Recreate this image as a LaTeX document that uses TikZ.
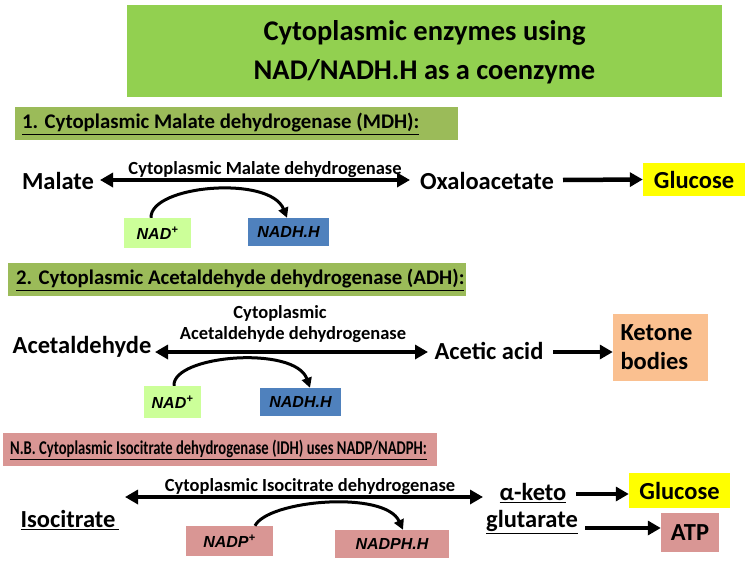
\documentclass[tikz,border=0pt]{standalone}
\usepackage{fontspec}
\usepackage{graphicx}
\setmainfont{Carlito}
\newfontfamily\arialf{Liberation Sans}
\usetikzlibrary{arrows.meta}
\definecolor{titlegreen}{HTML}{92D050}
\definecolor{olive}{HTML}{9BBB59}
\definecolor{rosy}{HTML}{D99694}
\definecolor{lightgreen}{HTML}{CCFF99}
\definecolor{bluebox}{HTML}{4F81BD}
\definecolor{peach}{HTML}{FAC090}
\definecolor{yellowbox}{HTML}{FFFF00}
\tikzset{
  big/.style={font=\fontsize{24.5}{29}\selectfont\bfseries, inner sep=0pt},
  enz/.style={font=\fontsize{18.5}{21}\selectfont\bfseries, inner sep=0pt},
  hdr/.style={font=\fontsize{20.8}{23}\selectfont\bfseries, inner sep=0pt, anchor=west},
  cof/.style={font=\arialf\fontsize{16}{18}\selectfont\bfseries\itshape, inner sep=0pt},
  rxn/.style={line width=4.5pt, {Triangle[length=13pt,width=14pt]}-{Triangle[length=13pt,width=14pt]}},
  fwd/.style={line width=4.5pt, -{Triangle[length=13pt,width=14pt]}},
  cofarc/.style={line width=3pt, -{Triangle[length=10pt,width=10pt]}},
}
\begin{document}
\begin{tikzpicture}[x=1pt,y=-1pt]
\useasboundingbox (0,0) rectangle (750,562);
% title
\fill[titlegreen] (127,5) rectangle (722,97);
\node[font=\fontsize{28.5}{39}\selectfont\bfseries, align=center] (title) at (424.5,52) {Cytoplasmic enzymes using\\NAD/NADH.H as a coenzyme};

% section 1
\fill[olive] (15,107) rectangle (458,140);
\node[hdr] (h1) at (22,124) {\underline{1. Cytoplasmic Malate dehydrogenase (MDH):}};
\node[big] (mal) at (58,181) {Malate};
\node[big] (oxa) at (487,181) {Oxaloacetate};
\node[big, fill=yellowbox, minimum width=102pt, minimum height=33pt] (glu1) at (694,179.5) {Glucose};
\coordinate (a1l) at (100,180);
\coordinate (a1r) at (410,180);
\draw[rxn] (a1l) -- (a1r);
\node[enz] (e1) at (265,170) {Cytoplasmic Malate dehydrogenase};
\coordinate (o1) at (563,180);
\draw[fwd] (o1) -- (glu1.west);
\node[cof, fill=lightgreen, minimum width=67pt, minimum height=30pt] (nad1) at (157.5,233) {NAD\textsuperscript{+}};
\node[cof, fill=bluebox, minimum width=81pt, minimum height=28pt] (nadh1) at (288.5,232) {NADH.H};
\draw[cofarc] (nad1.north -| 151,0) .. controls (150,185) and (270,175) .. (nadh1.north -| 287,0);

% section 2
\fill[olive] (8,263) rectangle (466,296);
\node[hdr] (h2) at (16,280) {\underline{2. Cytoplasmic Acetaldehyde dehydrogenase (ADH):}};
\node[big] (ace) at (82,347) {Acetaldehyde};
\node[big] (aca) at (489,351) {Acetic acid};
\node[big, fill=peach, minimum width=95pt, minimum height=67pt, align=left, text width=80pt] (ket) at (660.5,347.5) {Ketone\\bodies};
\coordinate (a2l) at (155,352);
\coordinate (a2r) at (428,352);
\draw[rxn] (a2l) -- (a2r);
\node[enz] (e2a) at (280,313) {Cytoplasmic};
\node[enz] (e2b) at (293,335) {Acetaldehyde dehydrogenase};
\coordinate (o2) at (553,352);
\draw[fwd] (o2) -- (ket.west |- o2);
\node[cof, fill=lightgreen, minimum width=57pt, minimum height=32pt] (nad2) at (172.5,402) {NAD\textsuperscript{+}};
\node[cof, fill=bluebox, minimum width=81pt, minimum height=28pt] (nadh2) at (300.5,402) {NADH.H};
\draw[cofarc] (nad2.north -| 174,0) .. controls (172,355) and (295,345) .. (nadh2.north -| 310,0);

% section 3
\fill[rosy] (3,433) rectangle (437,466);
\node[hdr, font=\fontsize{19.5}{22}\selectfont\bfseries] (h3) at (10,450) {\scalebox{0.75}[1]{\underline{N.B. Cytoplasmic Isocitrate dehydrogenase (IDH) uses NADP/NADPH:}}};
\node[big] (iso) at (70,520) {\underline{Isocitrate\,}};
\coordinate (a3l) at (125,497);
\coordinate (a3r) at (483,497);
\draw[rxn] (a3l) -- (a3r);
\node[enz] (e3) at (310,487) {Cytoplasmic Isocitrate dehydrogenase};
\node[big] (akg1) at (533,493) {\underline{α-keto}};
\node[big] (akg2) at (532,522) {\underline{glutarate}};
\node[big, fill=yellowbox, minimum width=101pt, minimum height=35pt] (glu2) at (679.5,490.5) {Glucose};
\node[big, fill=rosy, minimum width=58pt, minimum height=39pt] (atp) at (690,532.5) {ATP};
\coordinate (o3) at (576,494);
\draw[fwd] (o3) -- (glu2.west |- o3);
\coordinate (o4) at (585,528);
\draw[fwd] (o4) -- (atp.west |- o4);
\node[cof, fill=rosy, minimum width=87pt, minimum height=30pt] (nadp) at (229.5,541) {NADP\textsuperscript{+}};
\node[cof, fill=rosy, minimum width=114pt, minimum height=28pt] (nadph) at (392,544) {NADPH.H};
\draw[cofarc] (nadp.north -| 255,0) .. controls (268,500) and (385,490) .. (nadph.north -| 403,0);
\end{tikzpicture}
\end{document}
